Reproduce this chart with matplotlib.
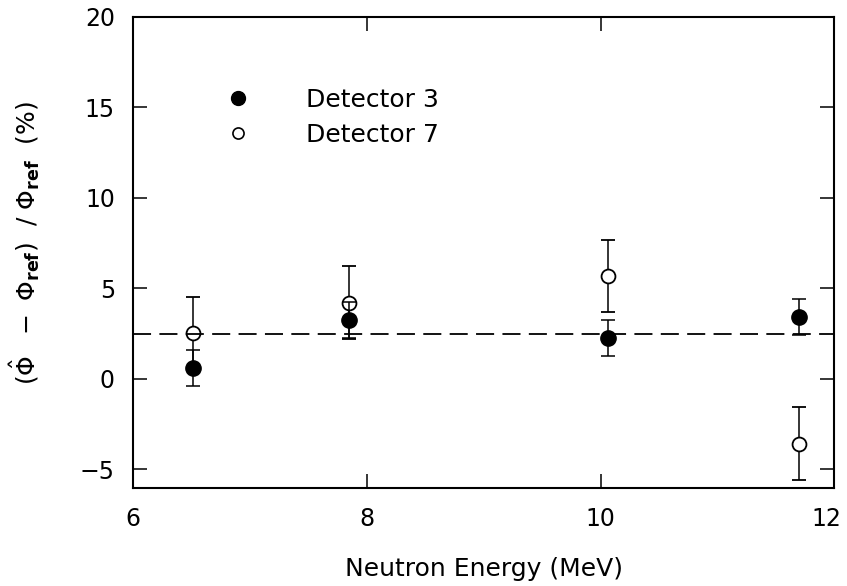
import numpy as np
import matplotlib
matplotlib.use("Agg")
import matplotlib.pyplot as plt
import matplotlib.transforms as mtransforms
from matplotlib.lines import Line2D

plt.rcParams['font.family'] = ['DejaVu Sans']
plt.rcParams['mathtext.default'] = 'regular'
plt.rcParams['lines.scale_dashes'] = False

# neutron energies (MeV)
energy = [6.51, 7.85, 10.06, 11.70]

# detector 3 : relative deviation (%) and error
det3 = [0.60, 3.28, 2.25, 3.43]
det3_err = [1.0, 1.0, 1.0, 1.0]

# detector 7
det7 = [2.55, 4.22, 5.70, -3.57]
det7_err = [2.0, 2.0, 2.0, 2.0]

ref_level = 2.5

fig = plt.figure(figsize=(8.47, 5.86), dpi=100)
ax = fig.add_axes([0.157, 0.168, 0.828, 0.803])

# detector 7 (open circles)
ax.errorbar(energy, det7, yerr=det7_err, fmt='o', color='black', mfc='white', mec='black',
            ms=10, mew=1.3, elinewidth=1.1, capsize=5, capthick=1.1, zorder=3)
# detector 3 (filled circles), drawn on top so its caps show inside open circles
ax.errorbar(energy, det3, yerr=det3_err, fmt='o', color='black', mfc='black', mec='black',
            ms=11, elinewidth=1.1, capsize=5, capthick=1.1, zorder=4)

ax.axhline(ref_level, color='black', lw=1.3, dashes=(13, 6), zorder=5)

ax.set_xlim(6, 12)
ax.set_ylim(-6, 20)
ax.set_xticks([6, 8, 10, 12])
ax.set_yticks([-5, 0, 5, 10, 15, 20])
ax.tick_params(direction='in', length=10, width=1.1, top=True, right=True, labelsize=17)
ax.tick_params(axis='x', pad=14)
ax.tick_params(axis='y', pad=13)
for s in ax.spines.values():
    s.set_linewidth(1.5)

# pull the last x tick label a little inside the figure
lab = ax.get_xticklabels()[-1]
lab.set_transform(lab.get_transform() + mtransforms.ScaledTranslation(-6 / 72, 0, fig.dpi_scale_trans))

ax.set_xlabel('Neutron Energy (MeV)', fontsize=18)
ax.xaxis.set_label_coords(0.5, -0.148)
ax.set_ylabel(r'$(\hat{\Phi}\ \ -\ \Phi_{\mathbf{ref}})\ \ /\ \Phi_{\mathbf{ref}}\ \ (\%)$', fontsize=18)
ax.yaxis.set_label_coords(-0.13, 0.52)

handles = [Line2D([], [], ls='none', marker='o', ms=10, mfc='black', mec='black'),
           Line2D([], [], ls='none', marker='o', ms=8, mfc='white', mec='black', mew=1.2)]
ax.legend(handles, ['Detector 3', 'Detector 7'], loc='upper left', bbox_to_anchor=(0.1355, 0.85),
          frameon=False, fontsize=18, handlelength=0.8, handletextpad=2.3, labelspacing=0.45,
          borderpad=0, borderaxespad=0)

fig.savefig('out.png', dpi=100)
